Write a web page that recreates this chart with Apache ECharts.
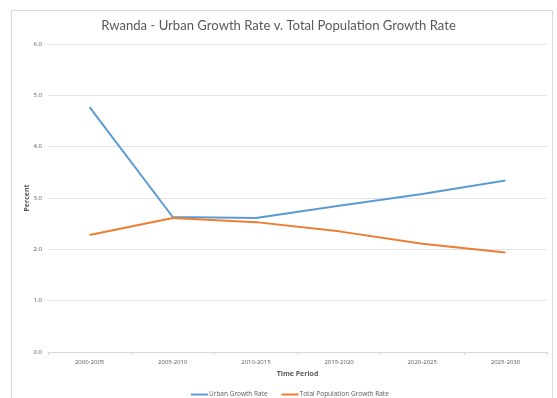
<!DOCTYPE html>
<html><head><meta charset="utf-8">
<script src="https://cdn.jsdelivr.net/npm/echarts@6/dist/echarts.min.js"></script>
<style>html,body{margin:0;padding:0;background:#fff}#c{width:557px;height:398px}</style>
</head><body><div id="c"></div>
<script>
const categories = ['2000-2005','2005-2010','2010-2015','2015-2020','2020-2025','2025-2030'];
const urbanGrowth = [4.77, 2.63, 2.61, 2.85, 3.08, 3.34];
const totalGrowth = [2.28, 2.61, 2.53, 2.35, 2.11, 1.94];
const yTicks = {min: 0, max: 6, interval: 1};

const chart = echarts.init(document.getElementById('c'), null, {renderer: 'canvas'});
const ff = '"Open Sans", "Liberation Sans", sans-serif';
chart.setOption({
  animation: false,
  textStyle: {fontFamily: ff},
  graphic: [{type: 'rect', shape: {x: 11.5, y: 10.5, width: 541, height: 400}, style: {fill: 'none', stroke: '#d9d9d9', lineWidth: 1}, silent: true}],
  title: {text: 'Rwanda - Urban Growth Rate v. Total Population Growth Rate', left: 'center', top: 14,
    textStyle: {fontSize: 13.1, fontWeight: 'normal', color: '#595959', fontFamily: 'Lato, sans-serif'}},
  legend: {top: 386, left: 186, icon: 'rect', itemWidth: 17, itemHeight: 2, itemGap: 14,
    textStyle: {fontSize: 6.5, color: '#595959', padding: [0,0,0,-4]},
    data: ['Urban Growth Rate', 'Total Population Growth Rate']},
  grid: {left: 48, right: 10, top: 44, bottom: 46},
  xAxis: {type: 'category', data: categories, boundaryGap: true,
    name: 'Time Period', nameLocation: 'middle', nameGap: 18,
    nameTextStyle: {fontSize: 7, fontWeight: 'bold', color: '#595959'},
    axisLine: {lineStyle: {color: '#d9d9d9'}},
    axisTick: {show: true, length: 3, lineStyle: {color: '#d9d9d9'}},
    axisLabel: {fontSize: 6, color: '#595959', margin: 7}},
  yAxis: {type: 'value', min: yTicks.min, max: yTicks.max, interval: yTicks.interval,
    name: 'Percent', nameLocation: 'middle', nameGap: 18, nameRotate: 90, nameMoveOverlap: false,
    nameTextStyle: {fontSize: 7, fontWeight: 'bold', color: '#595959'},
    axisLine: {show: false}, axisTick: {show: false},
    axisLabel: {fontSize: 6, color: '#595959', margin: 6, formatter: v => v.toFixed(1)},
    splitLine: {lineStyle: {color: '#e3e3e3'}}},
  series: [
    {name: 'Urban Growth Rate', type: 'line', data: urbanGrowth, showSymbol: false, symbol: 'none',
      lineStyle: {width: 2, color: '#5b9bd5'}, itemStyle: {color: '#5b9bd5'}},
    {name: 'Total Population Growth Rate', type: 'line', data: totalGrowth, showSymbol: false, symbol: 'none',
      lineStyle: {width: 2, color: '#ed7d31'}, itemStyle: {color: '#ed7d31'}}
  ]
});
</script></body></html>
